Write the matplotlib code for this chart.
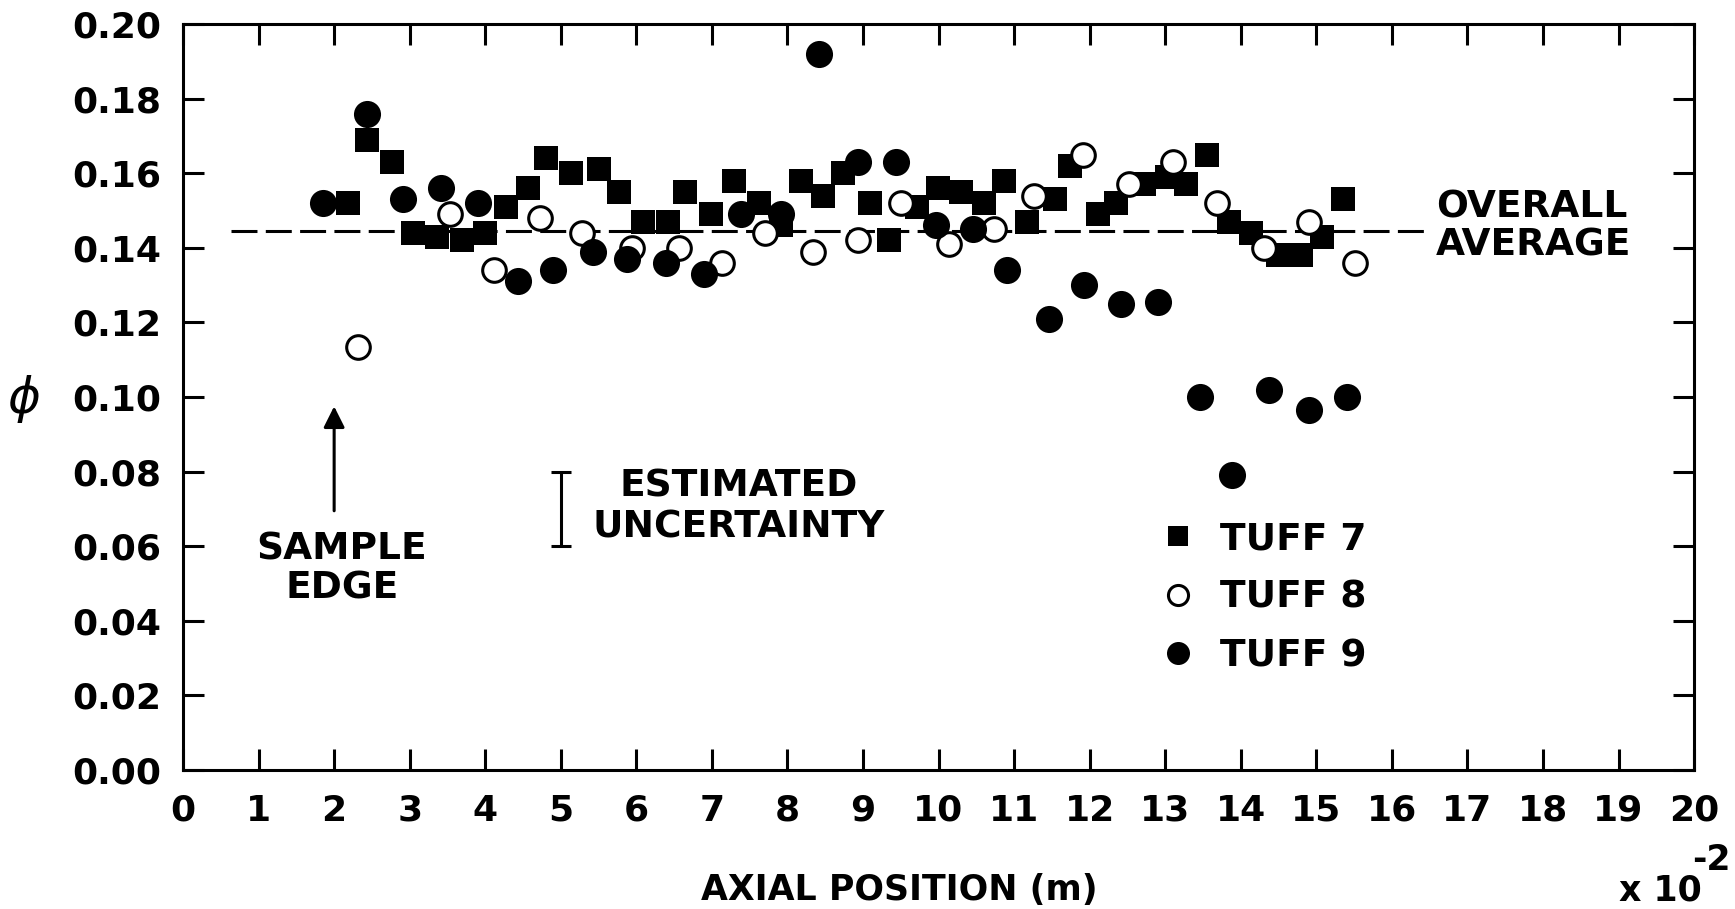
import matplotlib
matplotlib.use("Agg")
import matplotlib.pyplot as plt

plt.rcParams['font.family'] = ['DejaVu Sans']
plt.rcParams['font.weight'] = 'bold'
plt.rcParams['lines.scale_dashes'] = False

# ---------------- data ----------------
tuff7_x = [2.19, 2.44, 2.76, 3.04, 3.36, 3.69, 4.00, 4.27, 4.57, 4.81, 5.14, 5.50, 5.77,
           6.09, 6.42, 6.65, 6.99, 7.29, 7.62, 7.92, 8.18, 8.47, 8.73, 9.09, 9.35, 9.71,
           9.99, 10.30, 10.60, 10.87, 11.17, 11.54, 11.74, 12.11, 12.35, 12.72, 13.02,
           13.27, 13.55, 13.85, 14.13, 14.49, 14.80, 15.08, 15.36]
tuff7_y = [0.152, 0.169, 0.163, 0.144, 0.143, 0.142, 0.144, 0.151, 0.156, 0.164, 0.160,
           0.161, 0.155, 0.147, 0.147, 0.155, 0.149, 0.158, 0.152, 0.146, 0.158, 0.154,
           0.160, 0.152, 0.142, 0.151, 0.156, 0.155, 0.152, 0.158, 0.147, 0.153, 0.162,
           0.149, 0.152, 0.157, 0.159, 0.157, 0.165, 0.147, 0.144, 0.138, 0.138, 0.143,
           0.153]

tuff8_x = [2.31, 3.53, 4.11, 4.72, 5.28, 5.94, 6.56, 7.14, 7.70, 8.34, 8.94, 9.50, 10.14,
           10.74, 11.26, 11.91, 12.52, 13.10, 13.69, 14.31, 14.90, 15.51]
tuff8_y = [0.1135, 0.149, 0.134, 0.148, 0.144, 0.140, 0.140, 0.136, 0.144, 0.139, 0.142,
           0.152, 0.141, 0.145, 0.154, 0.165, 0.157, 0.163, 0.152, 0.140, 0.147, 0.136]

tuff9_x = [1.85, 2.44, 2.91, 3.42, 3.91, 4.43, 4.90, 5.43, 5.88, 6.39, 6.89, 7.39, 7.92,
           8.42, 8.93, 9.44, 9.96, 10.45, 10.90, 11.46, 11.93, 12.41, 12.90, 13.46, 13.89,
           14.37, 14.90, 15.40]
tuff9_y = [0.152, 0.176, 0.153, 0.156, 0.152, 0.131, 0.134, 0.139, 0.137, 0.136, 0.133,
           0.149, 0.149, 0.192, 0.163, 0.163, 0.146, 0.145, 0.134, 0.121, 0.130, 0.125,
           0.1255, 0.100, 0.079, 0.102, 0.0965, 0.100]

overall_average = 0.1445
average_span = (0.63, 16.45)

uncert_x = 5.0
uncert_center = 0.07
uncert_half = 0.01

edge_x = 2.0
edge_arrow = (0.0695, 0.0975)

x_ticks = list(range(0, 21))
y_ticks = [0.00, 0.02, 0.04, 0.06, 0.08, 0.10, 0.12, 0.14, 0.16, 0.18, 0.20]
series_labels = ["TUFF 7", "TUFF 8", "TUFF 9"]

# ---------------- figure ----------------
fig = plt.figure(figsize=(17.35, 9.09), dpi=100)
ax = fig.add_axes([0.1055, 0.1529, 0.8709, 0.8207])

LW = 2.2
h7, = ax.plot(tuff7_x, tuff7_y, 's', color='black', ms=17, mew=0, ls='none')
h8, = ax.plot(tuff8_x, tuff8_y, 'o', mfc='white', mec='black', ms=17, mew=2.2, ls='none')
h9, = ax.plot(tuff9_x, tuff9_y, 'o', color='black', ms=19.5, mew=0, ls='none')

ax.hlines(overall_average, average_span[0], average_span[1], colors='black',
          linestyles=(0, (18.7, 6.0)), lw=LW, zorder=1)

ax.errorbar([uncert_x], [uncert_center], yerr=[uncert_half], fmt='none',
            ecolor='black', elinewidth=LW, capsize=7.5, capthick=LW)

ax.annotate('', xy=(edge_x, edge_arrow[1]), xytext=(edge_x, edge_arrow[0]),
            arrowprops=dict(arrowstyle='-|>', lw=LW, color='black',
                            mutation_scale=32, shrinkA=0, shrinkB=0))

TXT = 27
ax.text(2.1, 0.059, "SAMPLE", ha='center', va='center', fontsize=TXT, fontweight='bold')
ax.text(2.1, 0.0486, "EDGE", ha='center', va='center', fontsize=TXT, fontweight='bold')
ax.text(7.36, 0.0759, "ESTIMATED", ha='center', va='center', fontsize=TXT, fontweight='bold')
ax.text(7.36, 0.0649, "UNCERTAINTY", ha='center', va='center', fontsize=TXT, fontweight='bold')
ax.text(16.58, 0.1509, "OVERALL", ha='left', va='center', fontsize=TXT, fontweight='bold')
ax.text(16.58, 0.1406, "AVERAGE", ha='left', va='center', fontsize=TXT, fontweight='bold')

ax.set_xlim(0, 20)
ax.set_ylim(0, 0.20)
ax.set_xticks(x_ticks)
ax.set_xticklabels([str(t) for t in x_ticks])
ax.set_yticks(y_ticks)
ax.set_yticklabels([f"{t:.2f}" for t in y_ticks])

ax.tick_params(axis='both', which='major', direction='in', length=15, width=LW,
               top=True, right=True, labelsize=26)
ax.tick_params(axis='x', pad=17)
ax.tick_params(axis='y', pad=16)
for lab in ax.get_xticklabels() + ax.get_yticklabels():
    lab.set_fontweight('bold')
for s in ax.spines.values():
    s.set_linewidth(LW)

ax.set_xlabel("AXIAL POSITION (m)", fontsize=25, fontweight='bold')
ax.xaxis.label.set_verticalalignment('center')
ax.xaxis.set_label_coords(0.474, -0.161)
ax.set_ylabel("\u03d5", fontsize=36, rotation=0, fontweight='normal', fontstyle='italic')
ax.yaxis.label.set_verticalalignment('center')
ax.yaxis.set_label_coords(-0.105, 0.497)

ax.text(0.95, -0.161, "x 10", transform=ax.transAxes, ha='left', va='center',
        fontsize=25, fontweight='bold')
ax.text(0.9985, -0.12, "-2", transform=ax.transAxes, ha='left', va='center',
        fontsize=25, fontweight='bold')

leg = ax.legend([h7, h8, h9], series_labels, loc='center left',
                bbox_to_anchor=(0.646, 0.231), frameon=False, fontsize=TXT,
                markerscale=0.85, handlelength=1.0, handletextpad=0.62,
                labelspacing=0.6, borderpad=0, borderaxespad=0)
for t in leg.get_texts():
    t.set_fontweight('bold')

fig.savefig("out.png", dpi=100, facecolor='white')
